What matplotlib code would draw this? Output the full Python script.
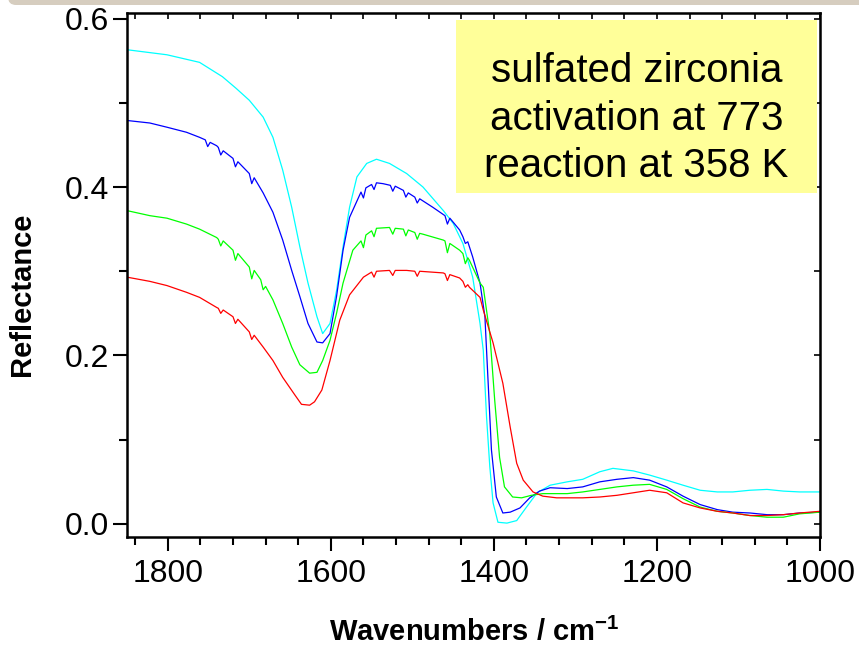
import matplotlib
matplotlib.use("Agg")
import matplotlib.pyplot as plt
from matplotlib.patches import Rectangle, FancyBboxPatch
from matplotlib.transforms import IdentityTransform
from matplotlib.ticker import MultipleLocator, FormatStrFormatter

plt.rcParams['font.family'] = ['Liberation Sans', 'DejaVu Sans']
plt.rcParams['mathtext.fontset'] = 'custom'
plt.rcParams['mathtext.rm'] = 'Liberation Sans'
plt.rcParams['mathtext.bf'] = 'Liberation Sans:bold'

# DRIFT spectra of sulfated zirconia (wavenumber in cm-1, reflectance)
wn_cyan = [1850, 1801, 1761, 1733, 1716, 1700, 1683, 1671, 1659, 1648, 1638, 1628,
           1617, 1610, 1601, 1593, 1585, 1577, 1568, 1556, 1544, 1528, 1507, 1487,
           1462, 1450, 1438, 1426, 1417, 1413, 1409, 1405, 1401, 1395, 1384, 1372,
           1360, 1347, 1331, 1310, 1291, 1270, 1254, 1229, 1209, 1188, 1168, 1147,
           1126, 1107, 1086, 1065, 1045, 1025, 1000]
r_cyan = [0.563, 0.557, 0.548, 0.531, 0.517, 0.503, 0.483, 0.459, 0.420, 0.376, 0.329, 0.286,
          0.246, 0.226, 0.238, 0.277, 0.329, 0.376, 0.412, 0.428, 0.433, 0.428, 0.416, 0.400,
          0.372, 0.357, 0.333, 0.293, 0.238, 0.206, 0.127, 0.068, 0.025, 0.002, 0.001, 0.004,
          0.020, 0.037, 0.046, 0.050, 0.053, 0.062, 0.066, 0.063, 0.058, 0.052, 0.046, 0.040,
          0.038, 0.038, 0.040, 0.041, 0.039, 0.038, 0.038]

wn_blue = [1850, 1822, 1801, 1777, 1761, 1754, 1751, 1748, 1740, 1738, 1735, 1732,
           1720, 1717, 1714, 1700, 1697, 1694, 1683, 1671, 1659, 1648, 1638, 1628,
           1617, 1610, 1601, 1593, 1585, 1577, 1563, 1560, 1557, 1550, 1547, 1544,
           1536, 1527, 1524, 1521, 1515, 1511, 1508, 1505, 1497, 1494, 1491, 1475,
           1460, 1457, 1454, 1442, 1438, 1435, 1432, 1426, 1417, 1411, 1407, 1403,
           1397, 1389, 1380, 1368, 1356, 1344, 1331, 1310, 1291, 1270, 1249, 1229,
           1209, 1188, 1168, 1147, 1126, 1107, 1086, 1065, 1045, 1025, 1000]
r_blue = [0.479, 0.476, 0.471, 0.465, 0.459, 0.456, 0.448, 0.453, 0.449, 0.447, 0.438, 0.443,
          0.434, 0.424, 0.430, 0.416, 0.404, 0.411, 0.393, 0.370, 0.337, 0.301, 0.270, 0.238,
          0.216, 0.215, 0.226, 0.270, 0.325, 0.364, 0.394, 0.387, 0.399, 0.403, 0.397, 0.405,
          0.404, 0.402, 0.395, 0.401, 0.398, 0.396, 0.388, 0.393, 0.388, 0.381, 0.386, 0.376,
          0.366, 0.356, 0.363, 0.349, 0.341, 0.333, 0.335, 0.317, 0.286, 0.246, 0.167, 0.088,
          0.032, 0.013, 0.014, 0.019, 0.031, 0.039, 0.043, 0.042, 0.044, 0.050, 0.053, 0.055,
          0.052, 0.044, 0.033, 0.023, 0.017, 0.014, 0.013, 0.011, 0.011, 0.013, 0.014]

wn_green = [1850, 1822, 1801, 1777, 1761, 1740, 1738, 1735, 1732, 1720, 1717, 1714,
            1700, 1697, 1694, 1686, 1683, 1680, 1671, 1659, 1648, 1638, 1626, 1617,
            1610, 1601, 1593, 1585, 1573, 1563, 1560, 1557, 1550, 1547, 1544, 1528,
            1524, 1521, 1511, 1508, 1505, 1497, 1494, 1491, 1487, 1462, 1460, 1457,
            1454, 1442, 1438, 1435, 1432, 1430, 1417, 1413, 1405, 1399, 1393, 1387,
            1377, 1366, 1354, 1340, 1310, 1291, 1270, 1249, 1229, 1209, 1188, 1168,
            1147, 1126, 1107, 1086, 1065, 1045, 1025, 1000]
r_green = [0.372, 0.366, 0.363, 0.356, 0.350, 0.340, 0.338, 0.330, 0.336, 0.325, 0.313, 0.321,
           0.305, 0.291, 0.301, 0.290, 0.278, 0.282, 0.266, 0.238, 0.210, 0.189, 0.179, 0.180,
           0.194, 0.218, 0.250, 0.286, 0.325, 0.336, 0.328, 0.343, 0.348, 0.341, 0.351, 0.352,
           0.344, 0.351, 0.350, 0.342, 0.349, 0.346, 0.338, 0.345, 0.344, 0.337, 0.336, 0.322,
           0.333, 0.325, 0.321, 0.309, 0.316, 0.313, 0.286, 0.281, 0.226, 0.147, 0.079, 0.044,
           0.032, 0.031, 0.034, 0.036, 0.036, 0.038, 0.041, 0.044, 0.046, 0.047, 0.041, 0.030,
           0.020, 0.015, 0.013, 0.010, 0.008, 0.008, 0.012, 0.014]

wn_red = [1850, 1822, 1801, 1777, 1761, 1740, 1738, 1735, 1732, 1720, 1717, 1714,
          1700, 1697, 1694, 1683, 1671, 1659, 1644, 1636, 1626, 1620, 1611, 1601,
          1589, 1577, 1560, 1550, 1547, 1544, 1528, 1524, 1521, 1507, 1497, 1494,
          1491, 1462, 1460, 1457, 1454, 1442, 1438, 1435, 1432, 1430, 1417, 1413,
          1401, 1389, 1380, 1372, 1364, 1352, 1340, 1323, 1291, 1270, 1249, 1229,
          1209, 1188, 1168, 1147, 1126, 1107, 1086, 1065, 1045, 1025, 1000]
r_red = [0.293, 0.288, 0.283, 0.275, 0.269, 0.257, 0.256, 0.250, 0.254, 0.246, 0.238, 0.243,
         0.228, 0.219, 0.224, 0.210, 0.194, 0.174, 0.153, 0.142, 0.141, 0.145, 0.159, 0.194,
         0.242, 0.272, 0.293, 0.299, 0.293, 0.300, 0.301, 0.295, 0.301, 0.301, 0.300, 0.294,
         0.300, 0.298, 0.297, 0.289, 0.296, 0.292, 0.288, 0.281, 0.284, 0.281, 0.269, 0.254,
         0.215, 0.167, 0.115, 0.072, 0.052, 0.038, 0.033, 0.031, 0.031, 0.032, 0.034, 0.037,
         0.040, 0.037, 0.025, 0.019, 0.015, 0.013, 0.010, 0.010, 0.011, 0.013, 0.015]

series = [
    (wn_cyan, r_cyan, '#00ffff'),
    (wn_blue, r_blue, '#0000ff'),
    (wn_green, r_green, '#00ff00'),
    (wn_red, r_red, '#ff0000'),
]

fig = plt.figure(figsize=(8.59, 6.48), dpi=100)
ax = fig.add_axes([127 / 859, 1 - 537 / 648, 693 / 859, 524 / 648])

for wn, r, col in series:
    ax.plot(wn, r, color=col, lw=0.9)

ax.set_xlim(1850, 1000)
ax.set_ylim(-0.0155, 0.6066)

ax.xaxis.set_major_locator(MultipleLocator(200))
ax.xaxis.set_minor_locator(MultipleLocator(40))
ax.yaxis.set_major_locator(MultipleLocator(0.2))
ax.yaxis.set_minor_locator(MultipleLocator(0.1))
ax.yaxis.set_major_formatter(FormatStrFormatter('%.1f'))
ax.tick_params(which='major', direction='out', length=10, width=1.5, labelsize=23)
ax.tick_params(which='minor', direction='out', length=6, width=1.5)
ax.tick_params(axis='x', which='major', pad=6)
ax.tick_params(axis='y', which='major', pad=3)
for sp in ax.spines.values():
    sp.set_linewidth(1.8)

# mirrored inward ticks on top and right
top = ax.secondary_xaxis('top')
top.xaxis.set_major_locator(MultipleLocator(40))
top.tick_params(direction='in', length=4, width=1.2, labeltop=False)
right = ax.secondary_yaxis('right')
right.yaxis.set_major_locator(MultipleLocator(0.1))
right.tick_params(direction='in', length=4, width=1.2, labelright=False)

fig.text(474 / 859, 1 - 632 / 648, r'Wavenumbers / cm$^{\mathbf{-1}}$',
         fontsize=21, fontweight='bold', ha='center', va='center')
fig.text(22 / 859, 1 - 294 / 648, 'Reflectance', fontsize=21, fontweight='bold',
         rotation=90, ha='center', va='center')

# sample note
ax.add_patch(Rectangle((0.4747, 0.6565), 0.521, 0.330, transform=ax.transAxes,
                       facecolor='#ffff99', edgecolor='none', zorder=3))
note = ['sulfated zirconia', 'activation at 773', 'reaction at 358 K']
for line, yb in zip(note, [0.8683, 0.7767, 0.687]):
    ax.text(0.7352, yb, line, transform=ax.transAxes, fontsize=29,
            ha='center', va='baseline', zorder=4)

# slide band along the top edge
fig.patches.append(FancyBboxPatch((8, 643), 900, 30,
                                  boxstyle='round,pad=0,rounding_size=8',
                                  transform=IdentityTransform(),
                                  facecolor='#d6cdbf', edgecolor='none'))

fig.savefig('out.png', dpi=100)
